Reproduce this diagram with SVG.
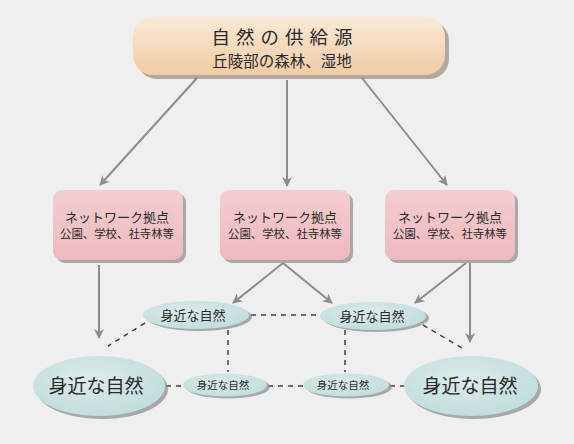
<svg xmlns="http://www.w3.org/2000/svg" width="574" height="444" viewBox="0 0 574 444">
<defs>
<style>
.t{font-family:"Noto Sans CJK JP","Noto Sans CJK SC",sans-serif;fill:#2a2a2a;text-anchor:middle}
.arr{stroke:#8c8c8c;stroke-width:2;fill:none;marker-end:url(#ah)}
.dash{stroke:#444;stroke-width:1.5;stroke-dasharray:5 5;fill:none}
.pink{fill:url(#gp)}
.sh{fill:#8a8a8a;opacity:0.7}
.el{fill:url(#ge)}
</style>
<linearGradient id="gt" x1="0" y1="0" x2="0" y2="1">
<stop offset="0" stop-color="#fbe9d6"/><stop offset="1" stop-color="#f1cba5"/>
</linearGradient>
<linearGradient id="gp" x1="0" y1="0" x2="0" y2="1">
<stop offset="0" stop-color="#f4cdd0"/><stop offset="1" stop-color="#eeb9be"/>
</linearGradient>
<radialGradient id="ge" cx="0.45" cy="0.4" r="0.65">
<stop offset="0" stop-color="#dcecea"/><stop offset="1" stop-color="#bfdcdc"/>
</radialGradient>
<marker id="ah" viewBox="0 0 10 10" refX="9" refY="5" markerWidth="5" markerHeight="5" orient="auto" markerUnits="strokeWidth">
<path d="M0,0 L10,5 L0,10 L3,5 z" fill="#8c8c8c"/>
</marker>
</defs>
<rect width="574" height="444" fill="#efefef"/>
<g id="connectors">
<line class="arr" x1="197" y1="78" x2="100" y2="185"/>
<line class="arr" x1="287" y1="80" x2="287" y2="186"/>
<line class="arr" x1="362" y1="78" x2="447" y2="185"/>
<line class="arr" x1="99" y1="265" x2="99" y2="338"/>
<line class="arr" x1="283" y1="263" x2="233" y2="303"/>
<line class="arr" x1="283" y1="263" x2="332" y2="303"/>
<line class="arr" x1="466" y1="263" x2="415" y2="303"/>
<line class="arr" x1="470" y1="263" x2="470" y2="342"/>
<line class="dash" x1="251" y1="315" x2="320" y2="315"/>
<line class="dash" x1="145" y1="323" x2="108" y2="346"/>
<line class="dash" x1="423" y1="325" x2="462" y2="348"/>
<line class="dash" x1="228" y1="330" x2="228" y2="372"/>
<line class="dash" x1="345" y1="330" x2="345" y2="372"/>
<line class="dash" x1="166" y1="386" x2="183" y2="386"/>
<line class="dash" x1="268" y1="386" x2="303" y2="386"/>
<line class="dash" x1="390" y1="386" x2="405" y2="386"/>
</g>
<g id="source">
<rect x="137" y="21" width="312" height="58" rx="20" fill="#8a7a6a" opacity="0.6"/>
<rect x="133" y="17" width="312" height="58" rx="20" fill="url(#gt)"/>
<text class="t" x="285" y="44" font-size="18.5" letter-spacing="6">自然の供給源</text>
<text class="t" x="282" y="67" font-size="15.5">丘陵部の森林、湿地</text>
</g>
<g id="hub1">
<rect x="56" y="193" width="130" height="70" rx="9" class="sh"/>
<rect x="53" y="190" width="130" height="70" rx="9" class="pink"/>
<text class="t" x="117" y="222" font-size="13">ネットワーク拠点</text>
<text class="t" x="117" y="238" font-size="11.4">公園、学校、社寺林等</text>
</g>
<g id="hub2">
<rect x="223" y="193" width="130" height="70" rx="9" class="sh"/>
<rect x="220" y="190" width="130" height="70" rx="9" class="pink"/>
<text class="t" x="285" y="222" font-size="13">ネットワーク拠点</text>
<text class="t" x="285" y="238" font-size="11.4">公園、学校、社寺林等</text>
</g>
<g id="hub3">
<rect x="388" y="193" width="130" height="70" rx="9" class="sh"/>
<rect x="385" y="190" width="130" height="70" rx="9" class="pink"/>
<text class="t" x="450" y="222" font-size="13">ネットワーク拠点</text>
<text class="t" x="450" y="238" font-size="11.4">公園、学校、社寺林等</text>
</g>
<g id="nat1">
<ellipse cx="199" cy="317" rx="53" ry="14" class="sh"/>
<ellipse cx="196" cy="315" rx="53" ry="14" class="el"/>
<text class="t" x="193" y="320" font-size="13">身近な自然</text>
</g>
<g id="nat2">
<ellipse cx="376" cy="318" rx="53" ry="14" class="sh"/>
<ellipse cx="373" cy="316" rx="53" ry="14" class="el"/>
<text class="t" x="372" y="321" font-size="13">身近な自然</text>
</g>
<g id="nat3">
<ellipse cx="102" cy="389" rx="66" ry="30" class="sh"/>
<ellipse cx="99" cy="386" rx="66" ry="30" class="el"/>
<text class="t" x="96" y="393" font-size="19">身近な自然</text>
</g>
<g id="nat4">
<ellipse cx="228" cy="387" rx="42" ry="11.5" class="sh"/>
<ellipse cx="225" cy="385" rx="42" ry="11.5" class="el"/>
<text class="t" x="223" y="389" font-size="10.5">身近な自然</text>
</g>
<g id="nat5">
<ellipse cx="349" cy="387" rx="43" ry="11.5" class="sh"/>
<ellipse cx="346" cy="385" rx="43" ry="11.5" class="el"/>
<text class="t" x="343" y="389" font-size="10.5">身近な自然</text>
</g>
<g id="nat6">
<ellipse cx="474" cy="389" rx="67" ry="30" class="sh"/>
<ellipse cx="471" cy="386" rx="67" ry="30" class="el"/>
<text class="t" x="470" y="393" font-size="19">身近な自然</text>
</g>
</svg>
